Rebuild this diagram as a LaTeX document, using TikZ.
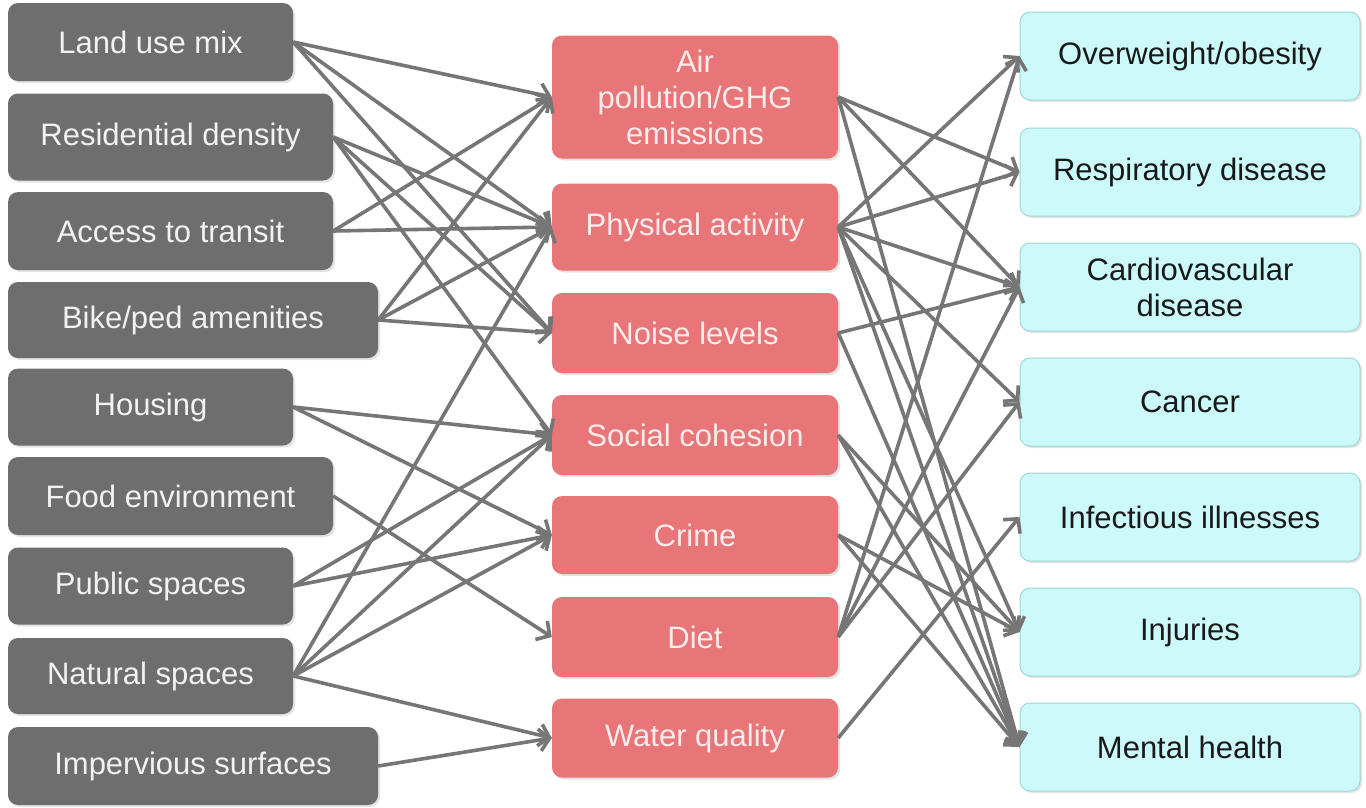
\documentclass[tikz,border=0pt]{standalone}
\usepackage{fontspec}
\setmainfont{Liberation Sans}
\usetikzlibrary{arrows.meta,shadows}
\definecolor{leftfill}{RGB}{110,110,110}
\definecolor{lefttext}{RGB}{242,242,242}
\definecolor{midfill}{RGB}{232,117,120}
\definecolor{midtext}{RGB}{253,236,236}
\definecolor{rightfill}{RGB}{204,250,250}
\definecolor{rightdraw}{RGB}{160,215,215}
\definecolor{edgecol}{RGB}{118,118,118}
\begin{document}
\begin{tikzpicture}[x=1pt,y=-1pt,
  box/.style={rounded corners=10pt, align=center, inner sep=0pt,
    font=\fontsize{31}{36}\selectfont,
    drop shadow={shadow xshift=2pt, shadow yshift=-2pt, opacity=0.22}},
  lbox/.style={box, fill=leftfill, text=lefttext},
  mbox/.style={box, fill=midfill, text=midtext, minimum width=286pt},
  rbox/.style={box, fill=rightfill, draw=rightdraw, line width=1pt, text=black!90, minimum width=340pt, minimum height=88pt},
  conn/.style={draw=edgecol, line width=3.6pt, -{Straight Barb[length=10pt,width=22pt]}}
]
\useasboundingbox (0,0) rectangle (1366,807);
\fill[white] (0,0) rectangle (1366,807);

% left column
\node[lbox, minimum width=285pt, minimum height=78pt] (lum)  at (150.5,42)  {Land use mix};
\node[lbox, minimum width=325pt, minimum height=87pt] (res)  at (170.5,137) {Residential density};
\node[lbox, minimum width=325pt, minimum height=78pt] (acc)  at (170.5,231) {Access to transit};
\node[lbox, minimum width=370pt, minimum height=76pt] (bike) at (193,320)   {Bike/ped amenities};
\node[lbox, minimum width=285pt, minimum height=77pt] (hou)  at (150.5,407) {Housing};
\node[lbox, minimum width=325pt, minimum height=78pt] (food) at (170.5,496) {Food environment};
\node[lbox, minimum width=285pt, minimum height=77pt] (pub)  at (150.5,586) {Public spaces};
\node[lbox, minimum width=285pt, minimum height=76pt] (nat)  at (150.5,676) {Natural spaces};
\node[lbox, minimum width=370pt, minimum height=78pt] (imp)  at (193,766)   {Impervious surfaces};

% middle column
\node[mbox, minimum height=123pt] (air)   at (695,97)  {Air\\pollution/GHG\\emissions};
\node[mbox, minimum height=87pt]  (phys)  at (695,227) {Physical activity};
\node[mbox, minimum height=80pt]  (noise) at (695,333) {Noise levels};
\node[mbox, minimum height=80pt]  (soc)   at (695,435) {Social cohesion};
\node[mbox, minimum height=78pt]  (crime) at (695,535) {Crime};
\node[mbox, minimum height=80pt]  (diet)  at (695,637) {Diet};
\node[mbox, minimum height=79pt]  (water) at (695,738) {Water quality};

% right column
\node[rbox] (obes)   at (1190,56)  {Overweight/obesity};
\node[rbox] (resp)   at (1190,172) {Respiratory disease};
\node[rbox] (card)   at (1190,287) {Cardiovascular\\disease};
\node[rbox] (canc)   at (1190,402) {Cancer};
\node[rbox] (inf)    at (1190,517) {Infectious illnesses};
\node[rbox] (inj)    at (1190,632) {Injuries};
\node[rbox] (mental) at (1190,747) {Mental health};

% left -> middle
\foreach \s/\t in {lum/air, lum/phys, lum/noise,
                   res/phys, res/noise, res/soc,
                   acc/air, acc/phys,
                   bike/air, bike/phys, bike/noise,
                   hou/soc, hou/crime,
                   food/diet,
                   pub/soc, pub/crime,
                   nat/phys, nat/soc, nat/crime, nat/water,
                   imp/water}
  \draw[conn] (\s.east) -- (\t.west);

% middle -> right
\foreach \s/\t in {air/resp, air/card, air/mental,
                   phys/obes, phys/resp, phys/card, phys/canc, phys/inj, phys/mental,
                   noise/card, noise/mental,
                   soc/inj, soc/mental,
                   crime/inj, crime/mental,
                   diet/obes, diet/card, diet/canc,
                   water/inf}
  \draw[conn] (\s.east) -- (\t.west);
\end{tikzpicture}
\end{document}
